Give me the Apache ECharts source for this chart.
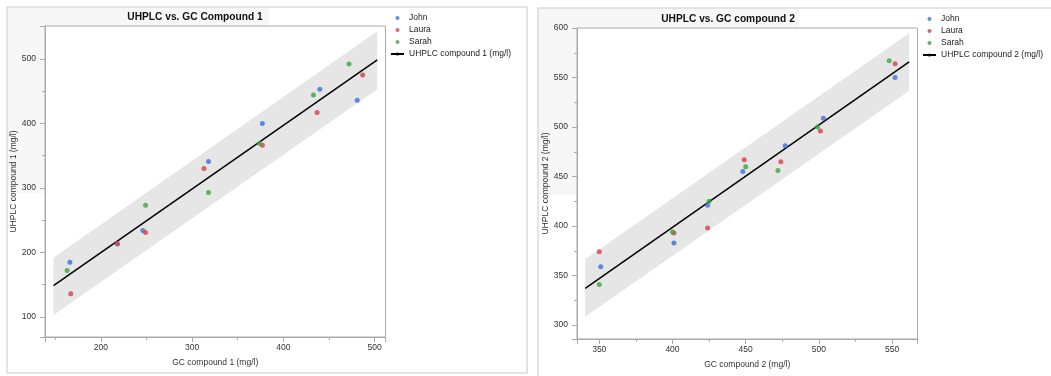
<!DOCTYPE html>
<html>
<head>
<meta charset="utf-8">
<script src="https://cdn.jsdelivr.net/npm/echarts@6/dist/echarts.min.js"></script>
<style>
  html, body { margin: 0; padding: 0; background: #fff; }
  #main { width: 1051px; height: 376px; }
</style>
</head>
<body>
<div id="main"></div>
<script>
// 人员与颜色
var people = ['John', 'Laura', 'Sarah'];
var colors = ['#3f6fd8', '#d6404e', '#3aa63a'];

// 化合物 1: [GC, UHPLC]
var c1John  = [[166, 185], [218, 213], [246, 234], [318, 341], [377, 400], [440, 453], [481, 436]];
var c1Laura = [[167, 136], [218, 214], [249, 231], [313, 330], [377, 366], [437, 417], [487, 475]];
var c1Sarah = [[163, 172], [249, 273], [318, 293], [374, 369], [433, 444], [472, 492]];
var c1FitX = [148, 503];
var c1FitY = [148.5, 498.5];
var c1BandLow = [103, 453];
var c1BandHigh = [192, 543];

// 化合物 2: [GC, UHPLC]
var c2John  = [[351, 359], [401, 383], [424, 421], [448, 455], [477, 481], [503, 509], [552, 550]];
var c2Laura = [[350, 374], [401, 393], [424, 398], [449, 467], [474, 465], [501, 496], [552, 564]];
var c2Sarah = [[350, 341], [400, 394], [425, 425], [450, 460], [472, 456], [499, 500], [548, 567]];
var c2FitX = [340.4, 561.6];
var c2FitY = [337, 565.7];
var c2BandLow = [308.4, 536.7];
var c2BandHigh = [366.6, 594.6];

var fontFamily = '"Liberation Sans", Arial, sans-serif';
var axisGray = '#aaaaaa';

function bandItem(xs, lo, hi) {
  return [[xs[0], lo[0], hi[0], xs[1], lo[1], hi[1]]];
}

function renderBand(params, api) {
  var p = [
    api.coord([api.value(0), api.value(2)]),
    api.coord([api.value(3), api.value(5)]),
    api.coord([api.value(3), api.value(4)]),
    api.coord([api.value(0), api.value(1)])
  ];
  return { type: 'polygon', shape: { points: p }, style: { fill: '#e6e6e6' } };
}

function makeAxis(gridIndex, min, max, split, name, gap, isY, showMax) {
  return {
    type: 'value',
    gridIndex: gridIndex,
    min: min,
    max: max,
    splitNumber: split,
    name: name,
    nameLocation: 'middle',
    nameGap: gap,
    nameTextStyle: { fontFamily: fontFamily, fontSize: 8.5, color: '#333' },
    axisLine: { show: true, lineStyle: { color: axisGray, width: 1 } },
    axisTick: { show: true, length: 5, lineStyle: { color: axisGray } },
    minorTick: { show: true, splitNumber: 2, length: 3, lineStyle: { color: axisGray } },
    axisLabel: {
      fontFamily: fontFamily, fontSize: 8.5, color: '#333',
      margin: isY ? 9 : 6,
      showMinLabel: false, showMaxLabel: !!showMax
    },
    splitLine: { show: false }
  };
}

function scatter(name, data, idx, color) {
  return {
    name: name, type: 'scatter', xAxisIndex: idx, yAxisIndex: idx,
    data: data, symbolSize: 5, itemStyle: { color: color }, z: 5
  };
}

function fitLine(name, xs, ys, idx) {
  return {
    name: name, type: 'line', xAxisIndex: idx, yAxisIndex: idx,
    data: [[xs[0], ys[0]], [xs[1], ys[1]]],
    symbol: 'none', lineStyle: { color: '#000', width: 1.5 },
    itemStyle: { color: '#000' }, z: 4
  };
}

function legend(left, top, lineName) {
  return {
    orient: 'vertical', left: left, top: top, padding: 0,
    itemWidth: 13, itemHeight: 4, itemGap: 0,
    selectedMode: false,
    textStyle: { fontFamily: fontFamily, fontSize: 8.5, color: '#222', lineHeight: 12 },
    data: people.map(function (p) { return { name: p, icon: 'circle' }; }).concat([{ name: lineName }])
  };
}

var chart = echarts.init(document.getElementById('main'));
chart.setOption({
  animation: false,
  backgroundColor: '#fff',
  graphic: [
    // 左面板
    { type: 'rect', shape: { x: 7, y: 7, width: 38, height: 186 }, style: { fill: '#f7f7f7' }, z: -10 },
    { type: 'rect', shape: { x: 7, y: 7, width: 262, height: 19 }, style: { fill: '#f7f7f7' }, z: -10 },
    { type: 'rect', shape: { x: 7, y: 7, width: 520, height: 366 }, style: { fill: 'none', stroke: '#dcdcdc', lineWidth: 1.5 }, z: -9 },
    // 右面板
    { type: 'rect', shape: { x: 538, y: 8, width: 39, height: 187 }, style: { fill: '#f7f7f7' }, z: -10 },
    { type: 'rect', shape: { x: 538, y: 8, width: 261, height: 20 }, style: { fill: '#f7f7f7' }, z: -10 },
    { type: 'rect', shape: { x: 538, y: 8, width: 520, height: 380 }, style: { fill: 'none', stroke: '#dcdcdc', lineWidth: 1.5 }, z: -9 }
  ],
  title: [
    { text: 'UHPLC vs. GC Compound 1', left: 195, top: 12, textAlign: 'center', padding: 0,
      textStyle: { fontFamily: fontFamily, fontSize: 10.2, fontWeight: 'bold', color: '#111' } },
    { text: 'UHPLC vs. GC compound 2', left: 728, top: 14, textAlign: 'center', padding: 0,
      textStyle: { fontFamily: fontFamily, fontSize: 10.2, fontWeight: 'bold', color: '#111' } }
  ],
  legend: [
    legend(390, 12, 'UHPLC compound 1 (mg/l)'),
    legend(922, 13, 'UHPLC compound 2 (mg/l)')
  ],
  grid: [
    { left: 45, top: 26, width: 340.5, height: 311, show: true, borderColor: axisGray, borderWidth: 1, backgroundColor: '#fff' },
    { left: 577, top: 28, width: 340.5, height: 311, show: true, borderColor: axisGray, borderWidth: 1, backgroundColor: '#fff' }
  ],
  xAxis: [
    makeAxis(0, 138.7, 512, 4, 'GC compound 1 (mg/l)', 21, false, false),
    makeAxis(1, 334.8, 567.3, 5, 'GC compound 2 (mg/l)', 21, false, false)
  ],
  yAxis: [
    makeAxis(0, 69, 551, 5, 'UHPLC compound 1 (mg/l)', 25, true, false),
    makeAxis(1, 286, 600, 6, 'UHPLC compound 2 (mg/l)', 25, true, true)
  ],
  series: [
    { type: 'custom', xAxisIndex: 0, yAxisIndex: 0, renderItem: renderBand,
      data: bandItem(c1FitX, c1BandLow, c1BandHigh), encode: { x: [0, 3], y: [1, 2, 4, 5] }, z: 1, silent: true },
    fitLine('UHPLC compound 1 (mg/l)', c1FitX, c1FitY, 0),
    scatter(people[0], c1John, 0, colors[0]),
    scatter(people[1], c1Laura, 0, colors[1]),
    scatter(people[2], c1Sarah, 0, colors[2]),

    { type: 'custom', xAxisIndex: 1, yAxisIndex: 1, renderItem: renderBand,
      data: bandItem(c2FitX, c2BandLow, c2BandHigh), encode: { x: [0, 3], y: [1, 2, 4, 5] }, z: 1, silent: true },
    fitLine('UHPLC compound 2 (mg/l)', c2FitX, c2FitY, 1),
    scatter(people[0], c2John, 1, colors[0]),
    scatter(people[1], c2Laura, 1, colors[1]),
    scatter(people[2], c2Sarah, 1, colors[2])
  ]
});
</script>
</body>
</html>
